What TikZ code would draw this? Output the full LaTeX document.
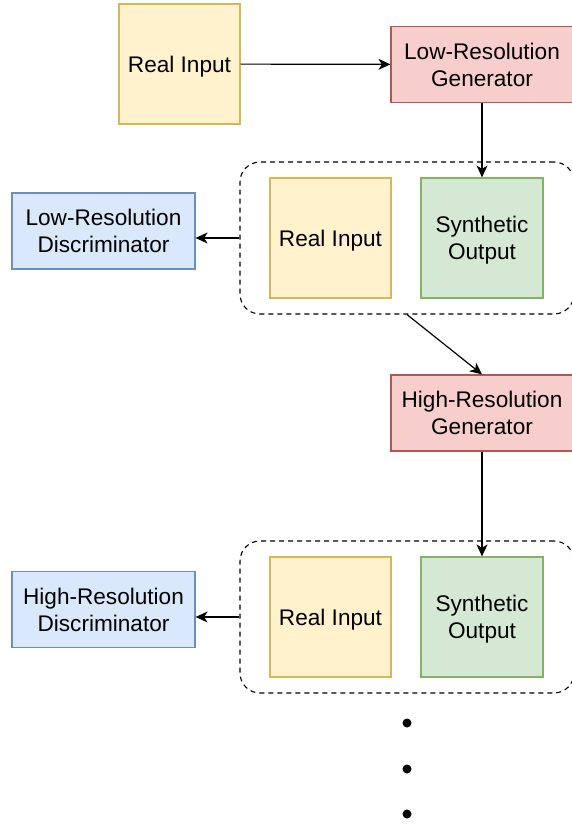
\documentclass[tikz,border=0pt]{standalone}
\usepackage{fontspec}
\setmainfont{Liberation Sans}
\usepackage{xcolor}
\usepackage{tikz}
\usetikzlibrary{arrows.meta,positioning,calc}
\definecolor{inyellow}{HTML}{FFF2CC}
\definecolor{inyellowd}{HTML}{D6B656}
\definecolor{genred}{HTML}{F8CECC}
\definecolor{genredd}{HTML}{B85450}
\definecolor{syngreen}{HTML}{D5E8D4}
\definecolor{syngreend}{HTML}{82B366}
\definecolor{discblue}{HTML}{DAE8FC}
\definecolor{discblued}{HTML}{6C8EBF}

\begin{document}
\begin{tikzpicture}[
    x=1pt, y=-1pt,
    every node/.style={font=\fontsize{22.6}{27}\selectfont, align=center,
                 inner sep=0pt, text depth=0pt},
    inbox/.style={rectangle, draw=inyellowd, fill=inyellow, line width=1.2pt,
                 minimum width=121pt, minimum height=120pt},
    synbox/.style={rectangle, draw=syngreend, fill=syngreen, line width=1.2pt,
                 minimum width=122pt, minimum height=120pt},
    genbox/.style={rectangle, draw=genredd, fill=genred, line width=1.2pt,
                 minimum width=182pt, minimum height=76pt},
    discbox/.style={rectangle, draw=discblued, fill=discblue, line width=1.2pt,
                 minimum width=183pt, minimum height=76pt},
    grpbox/.style={rectangle, draw, rounded corners=20pt, line width=1.1pt,
                 dash pattern=on 5pt off 4pt,
                 minimum width=334pt, minimum height=152pt},
    arr/.style={-{Stealth[length=12pt, width=11pt, inset=3.5pt]}, line width=1.2pt},
]
    \useasboundingbox (0,0) rectangle (572,824);
    \clip (0,0) rectangle (572,824);

    % first stage
    \node[inbox] (in0) at (179.5,64) {Real Input};
    \node[genbox] (lrgen) at (482,64.5) {Low-Resolution\\Generator};
    \node[grpbox] (grp1) at (407,238) {};
    \node[inbox] (in1) at (330.5,238) {Real Input};
    \node[synbox] (syn1) at (482,238) {Synthetic\\Output};
    \node[discbox] (lrdisc) at (103.5,231) {Low-Resolution\\Discriminator};

    % second stage
    \node[genbox] (hrgen) at (482,413) {High-Resolution\\Generator};
    \node[grpbox] (grp2) at (407,617) {};
    \node[inbox] (in2) at (330.5,617) {Real Input};
    \node[synbox] (syn2) at (482,617) {Synthetic\\Output};
    \node[discbox] (hrdisc) at (103.5,609.5) {High-Resolution\\Discriminator};

    \draw[arr] (in0) -- (lrgen);
    \draw[arr] (lrgen.south) -- (syn1.north);
    \draw[arr] (grp1.west) -- (lrdisc.east |- grp1.west);
    \draw[arr] (grp1.south) -- (hrgen.north);
    \draw[arr] (hrgen.south) -- (syn2.north);
    \draw[arr] (grp2.west) -- (hrdisc.east |- grp2.west);

    % dots
    \foreach \yy in {723,769,814}
        \fill (407,\yy) circle (4.5pt);
\end{tikzpicture}
\end{document}
